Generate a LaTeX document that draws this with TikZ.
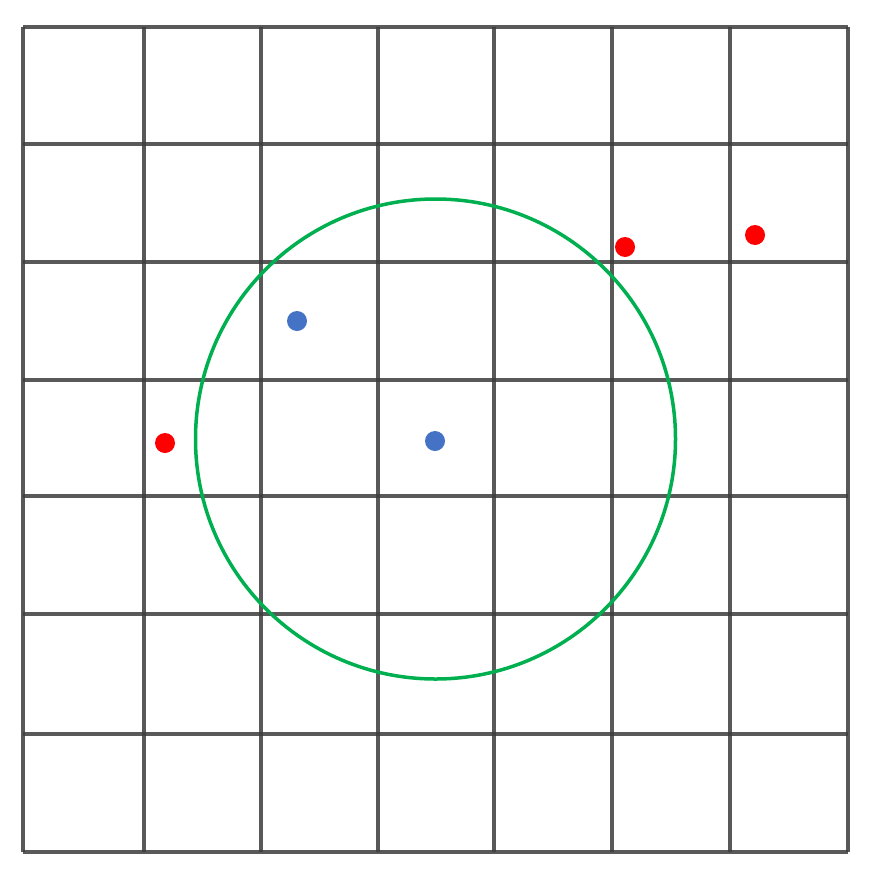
\documentclass[tikz,border=0pt]{standalone}
\usepackage{tikz}
\definecolor{gridgray}{RGB}{60,60,60}
\definecolor{ringgreen}{RGB}{0,176,80}
\definecolor{dotred}{RGB}{255,0,0}
\definecolor{dotblue}{RGB}{68,114,196}
\begin{document}
\begin{tikzpicture}[x=1pt,y=-1pt,
  gridline/.style={draw=gridgray,line width=3.2pt,opacity=0.85},
  reddot/.style={circle,fill=dotred,minimum size=20pt,inner sep=0pt},
  bluedot/.style={circle,fill=dotblue,minimum size=20pt,inner sep=0pt},
  ring/.style={draw=ringgreen,line width=3.5pt}]
\useasboundingbox (0,0) rectangle (875,870);
\fill[white] (0,0) rectangle (875,870);
\foreach \x in {23,144,261,378,494,612,730,848}
  \draw[gridline] (\x,27) -- (\x,852);
\foreach \y in {27,144,262,380,496,614,734,852}
  \draw[gridline] (23,\y) -- (848,\y);
\draw[ring] (435.5,439) circle (240);
\node[reddot] (r1) at (625,247) {};
\node[reddot] (r2) at (755,235) {};
\node[reddot] (r3) at (165,443) {};
\node[bluedot] (b1) at (297,321) {};
\node[bluedot] (b2) at (435,441) {};
\end{tikzpicture}
\end{document}
